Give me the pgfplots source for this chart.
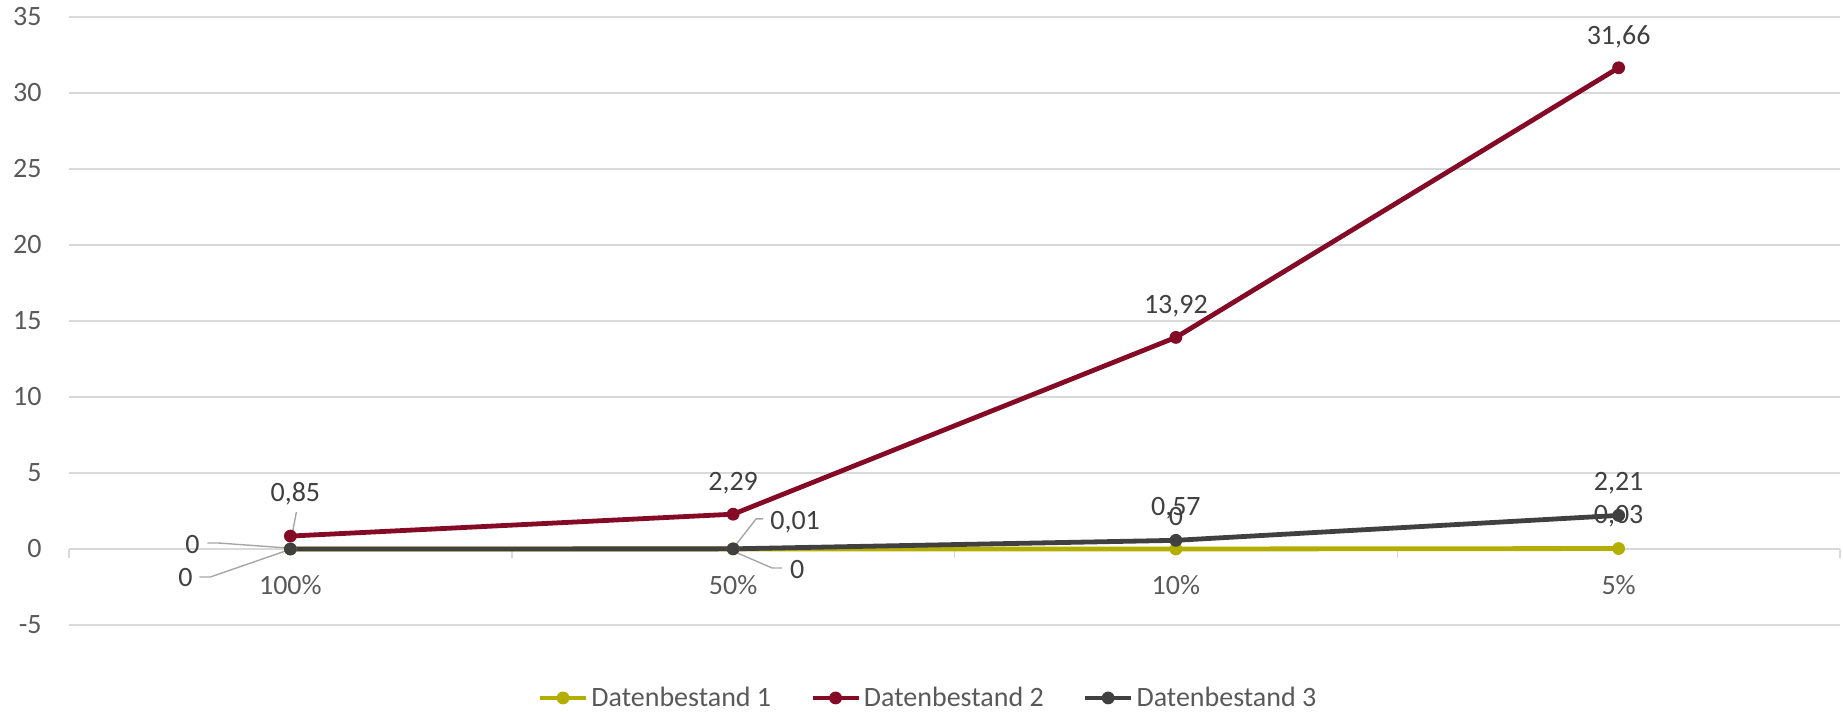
\documentclass[border=0pt]{standalone}
\usepackage{fontspec}
\setmainfont{Carlito}
\usepackage{pgfplots}
\pgfplotsset{compat=1.18}

\definecolor{serA}{RGB}{180,174,0}
\definecolor{serB}{RGB}{132,10,38}
\definecolor{serC}{RGB}{64,64,64}
\definecolor{gridc}{RGB}{217,217,217}
\definecolor{tickc}{RGB}{89,89,89}
\definecolor{labc}{RGB}{64,64,64}
\definecolor{leadc}{RGB}{166,166,166}

\newcommand\lblfont{\fontsize{14}{17}\selectfont}
% data label: x, y, xshift, yshift, text
\newcommand\dl[5]{\node[text=labc, font=\lblfont, inner sep=0pt] at ([shift={(#3,#4)}]axis cs:#1,#2) {#5};}

\pgfplotsset{
  series/.style={#1, line width=2.4pt, line join=round, mark=*, mark size=2.9pt,
    mark options={solid, fill=#1, line width=0.6pt}},
}

\begin{document}
\begin{tikzpicture}
\useasboundingbox (0,0) rectangle (921.5pt,356pt);
\begin{axis}[
  at={(34.5pt,43.5pt)}, anchor=south west,
  scale only axis, width=885.5pt, height=304pt,
  xmin=-0.5, xmax=3.5, ymin=-5, ymax=35,
  axis x line=middle, axis y line=left,
  x axis line style={-, draw=gridc, line width=0.75pt},
  y axis line style={draw=none},
  xtick={0,1,2,3}, xticklabels={100\%,50\%,10\%,5\%},
  minor xtick={-0.5,0.5,1.5,2.5,3.5},
  ytick={-5,0,...,35},
  major tick length=0pt, minor tick length=4.5pt,
  tick align=outside,
  minor tick style={draw=gridc, line width=0.75pt},
  ymajorgrids, grid style={gridc, line width=0.75pt},
  hide obscured x ticks=false, hide obscured y ticks=false,
  tick label style={font=\lblfont, text=tickc},
  xticklabel style={anchor=center, inner sep=0pt, yshift=-18pt},
  yticklabel style={anchor=east, inner sep=0pt, xshift=-13.5pt},
  /pgf/number format/assume math mode=true,
  clip=false,
  legend columns=3,
  legend style={at={(0.4853,-0.12)}, anchor=center, draw=none, fill=none,
    font=\lblfont, text=tickc, inner sep=0pt,
    /tikz/every even column/.append style={column sep=18pt},
    nodes={inner sep=1.5pt}},
  legend image code/.code={\draw[mark repeat=2,mark phase=2] plot coordinates {(0pt,0pt) (11.5pt,0pt) (23pt,0pt)};},
]
\addplot[series=serA] coordinates {(0,0) (1,0) (2,0) (3,0.03)};
\addlegendentry{Datenbestand 1}
\addplot[series=serB] coordinates {(0,0.85) (1,2.29) (2,13.92) (3,31.66)};
\addlegendentry{Datenbestand 2}
\addplot[series=serC] coordinates {(0,0) (1,0.01) (2,0.57) (3,2.21)};
\addlegendentry{Datenbestand 3}

% leader lines
\draw[leadc, line width=0.7pt] ([shift={(3pt,12pt)}]axis cs:0,0.85) -- ([shift={(1pt,1.5pt)}]axis cs:0,0.85);
\draw[leadc, line width=0.7pt] ([shift={(-41.5pt,3pt)}]axis cs:0,0) -- ([shift={(-36pt,3pt)}]axis cs:0,0) -- ([shift={(-1.5pt,0.5pt)}]axis cs:0,0);
\draw[leadc, line width=0.7pt] ([shift={(-45.5pt,-14pt)}]axis cs:0,0) -- ([shift={(-40pt,-14pt)}]axis cs:0,0) -- ([shift={(-1pt,-0.5pt)}]axis cs:0,0);
\draw[leadc, line width=0.7pt] ([shift={(15pt,15pt)}]axis cs:1,0.01) -- ([shift={(11.5pt,15pt)}]axis cs:1,0.01) -- ([shift={(1pt,1.5pt)}]axis cs:1,0.01);
\draw[leadc, line width=0.7pt] ([shift={(24.5pt,-9.5pt)}]axis cs:1,0) -- ([shift={(19.5pt,-9.5pt)}]axis cs:1,0) -- ([shift={(1pt,-1.5pt)}]axis cs:1,0);

% data labels, series 1
\dl{0}{0}{-52.5pt}{-14.5pt}{0}
\dl{1}{0}{32pt}{-10.5pt}{0}
\dl{2}{0}{0pt}{16pt}{0}
\dl{3}{0.03}{0pt}{16pt}{0,03}
% data labels, series 2
\dl{0}{0.85}{2.5pt}{21pt}{0,85}
\dl{1}{2.29}{0pt}{15.5pt}{2,29}
\dl{2}{13.92}{0pt}{15.5pt}{13,92}
\dl{3}{31.66}{0pt}{15.5pt}{31,66}
% data labels, series 3
\dl{0}{0}{-49pt}{2pt}{0}
\dl{1}{0.01}{31pt}{13.5pt}{0,01}
\dl{2}{0.57}{0pt}{16pt}{0,57}
\dl{3}{2.21}{0pt}{16pt}{2,21}
\end{axis}
\end{tikzpicture}
\end{document}
